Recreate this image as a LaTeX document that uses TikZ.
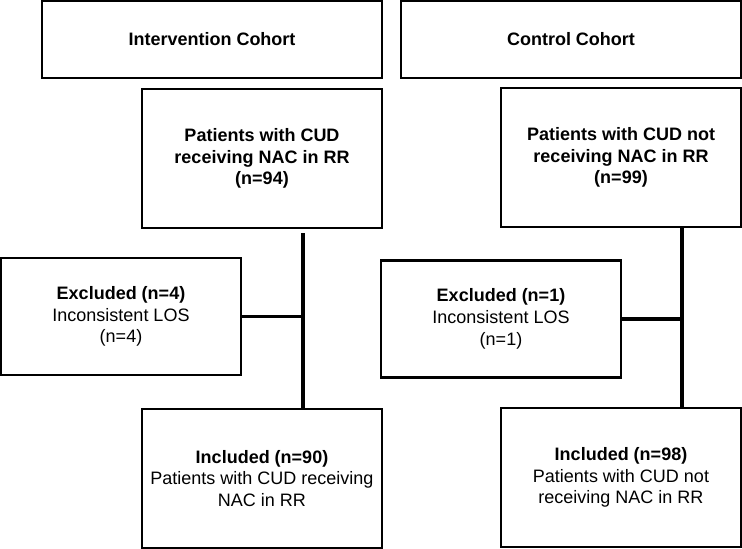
\documentclass[tikz,border=0pt]{standalone}
\usepackage{fontspec}
\setmainfont{Liberation Sans}
\usepackage{tikz}
\usetikzlibrary{calc}
\tikzset{
  box/.style={draw=black,line width=2.4pt,fill=white,minimum width=240pt,align=center,inner sep=2pt,font=\fontsize{18}{21.7}\selectfont},
  cohort/.style={box,minimum width=340pt,minimum height=77pt,font=\fontsize{18}{21.7}\selectfont\bfseries},
  tall/.style={box,minimum height=139pt},
  side/.style={box,minimum height=117pt},
  link/.style={draw=black,line width=3.6pt}
}

\begin{document}
\begin{tikzpicture}[x=1pt,y=-1pt]
  \useasboundingbox (0,0) rectangle (742,549);

  % cohort headers
  \node[cohort] (icoh) at (212,39.5) {Intervention Cohort};
  \node[cohort] (ccoh) at (571,39.5) {Control Cohort};

  % intervention arm
  \node[tall] (ipat) at (262,158.5) {\textbf{Patients with CUD}\\\textbf{receiving NAC in RR}\\\textbf{(n=94)}};
  \node[side] (iexc) at (121,316.5) {\textbf{Excluded (n=4)}\\Inconsistent LOS\\(n=4)};
  \node[tall] (iinc) at (262,478.5) {\textbf{Included (n=90)}\\Patients with CUD receiving\\NAC in RR};

  % control arm
  \node[tall] (cpat) at (621,157.5) {\textbf{Patients with CUD not}\\\textbf{receiving NAC in RR}\\\textbf{(n=99)}};
  \node[side] (cexc) at (501,319) {\textbf{Excluded (n=1)}\\Inconsistent LOS\\(n=1)};
  \node[tall] (cinc) at (621,477.5) {\textbf{Included (n=98)}\\Patients with CUD not\\receiving NAC in RR};

  \coordinate (ijoin) at ([xshift=41pt]ipat.south |- iexc.east);
  \coordinate (cjoin) at ([xshift=61pt]cpat.south |- cexc.east);

  \draw[link] ([xshift=41pt,yshift=-4pt]ipat.south) -- ([xshift=41pt]iinc.north);
  \draw[link] (iexc.east) -- (ijoin);
  \draw[link] ([xshift=61pt]cpat.south) -- ([xshift=61pt]cinc.north);
  \draw[link] (cexc.east) -- (cjoin);
\end{tikzpicture}
\end{document}
